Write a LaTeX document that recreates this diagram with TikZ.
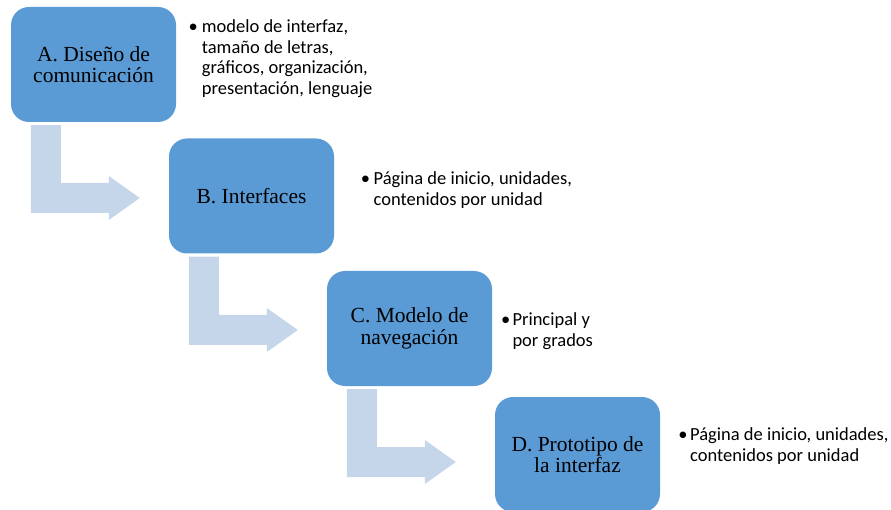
\documentclass[tikz,border=0pt]{standalone}
\usepackage{fontspec}
\setmainfont{Liberation Serif}
\newfontfamily\calib{Carlito}
\usetikzlibrary{calc}
\definecolor{boxblue}{HTML}{5B9BD5}
\definecolor{arrblue}{HTML}{C5D5EA}
\newcommand\bentarrow[3]{%
  \coordinate (#1v) at ($(#1.south west)+(20,3)$);
  \coordinate (#1t) at ($(#2.west)+(#3)$);
  \fill[arr] (#1v) -- ++(30,0) -- ($(#1v |- #1t)+(30,-15)$) -- ($(#1t)+(-31,-15)$)
    -- ($(#1t)+(-31,-22)$) -- (#1t) -- ($(#1t)+(-31,22)$) -- ($(#1t)+(-31,15)$)
    -- ($(#1v |- #1t)+(0,15)$) -- cycle;}
\begin{document}
\begin{tikzpicture}[x=1pt,y=-1pt,
  box/.style={fill=boxblue, rounded corners=18pt, minimum width=165pt, minimum height=115pt,
    align=center, inner sep=0pt, font=\fontsize{21.5}{21.5}\selectfont},
  bt/.style={inner sep=0pt, font=\calib\fontsize{18.5}{20.5}\selectfont},
  arr/.style={fill=arrblue}]
\useasboundingbox (0,0) rectangle (891,510);
\node[box] (A) at (93.5,64.5) {A. Diseño de\\comunicación};
\node[box] (B) at (251.5,196) {B. Interfaces};
\node[box] (C) at (409.5,328.5) {C. Modelo de\\navegación};
\node[box] (D) at (577.5,454.5) {D. Prototipo de\\la interfaz};
\bentarrow{A}{B}{-29,2}
\bentarrow{B}{C}{-29,1.5}
\bentarrow{C}{D}{-39,7.5}
\node[bt, anchor=base west] (ta) at (201.7,33) {\parbox[t]{220pt}{\raggedright modelo de interfaz,\\ tamaño de letras,\\ gráficos, organización,\\ presentación, lenguaje}};
\node[bt, anchor=base] (pa) at ($(ta.base west)+(-8.5,0)$) {•};
\node[bt, anchor=base west] (tb) at (373.5,185) {\parbox[t]{250pt}{\raggedright Página de inicio, unidades,\\ contenidos por unidad}};
\node[bt, anchor=base] (pb) at ($(tb.base west)+(-8,0)$) {•};
\node[bt, anchor=base west] (tc) at (512.3,326) {\parbox[t]{150pt}{\raggedright Principal y\\ por grados}};
\node[bt, anchor=base] (pc) at ($(tc.base west)+(-6.5,0)$) {•};
\node[bt, anchor=base west] (td) at (690,440.5) {\parbox[t]{200pt}{\raggedright Página de inicio, unidades,\\ contenidos por unidad}};
\node[bt, anchor=base] (pd) at ($(td.base west)+(-7,0)$) {•};
\end{tikzpicture}
\end{document}
